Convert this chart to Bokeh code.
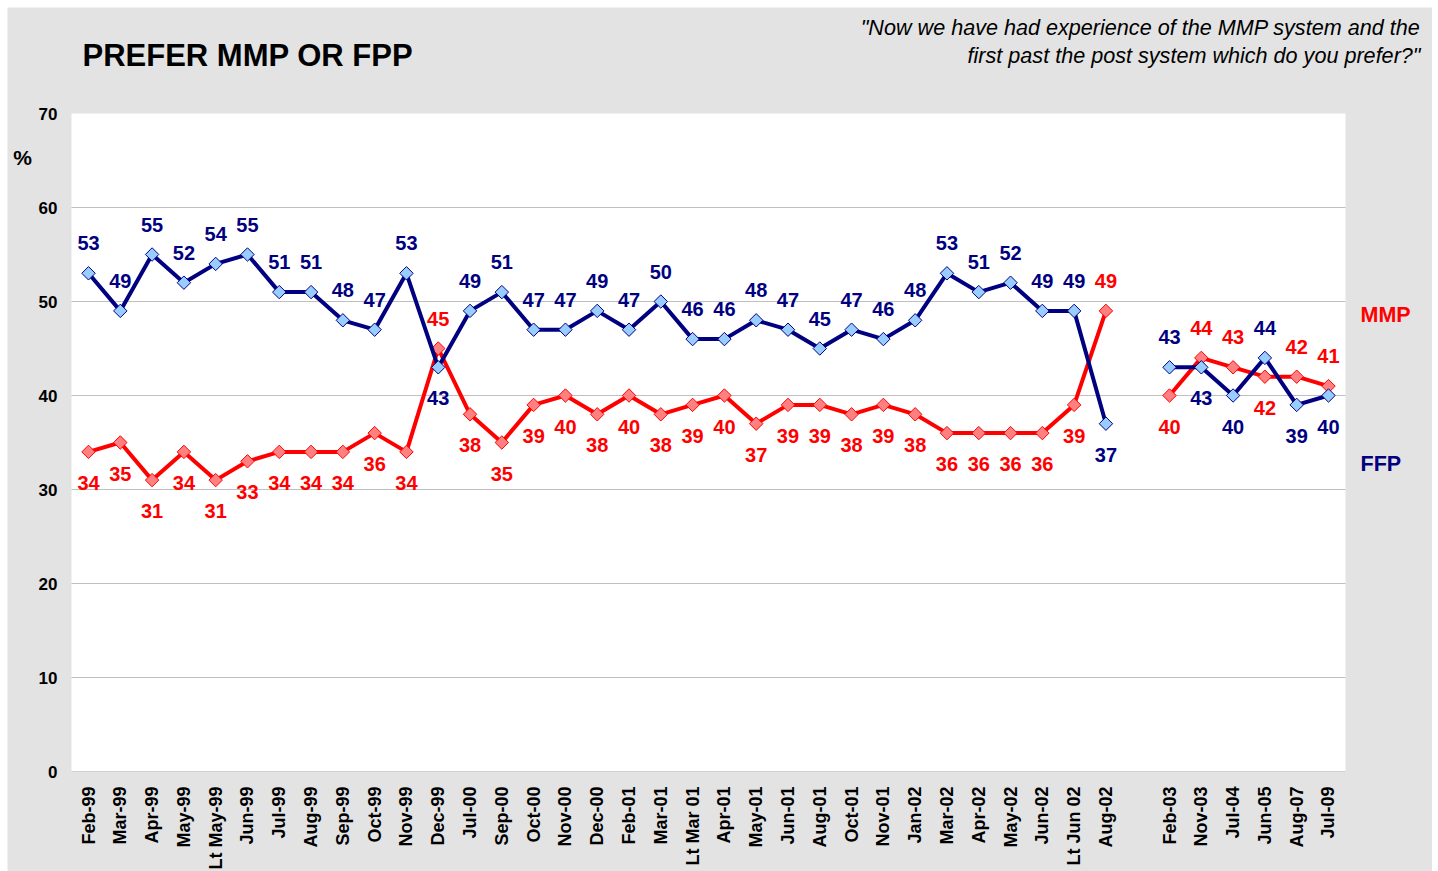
import numpy as np
from bokeh.plotting import figure
from bokeh.models import ColumnDataSource, FixedTicker, Range1d
from bokeh.embed import file_html
from bokeh.resources import INLINE
from bokeh.core.properties import value

# ---------------- data ----------------
categories = ["Feb-99", "Mar-99", "Apr-99", "May-99", "Lt May-99", "Jun-99", "Jul-99",
              "Aug-99", "Sep-99", "Oct-99", "Nov-99", "Dec-99", "Jul-00", "Sep-00",
              "Oct-00", "Nov-00", "Dec-00", "Feb-01", "Mar-01", "Lt Mar 01", "Apr-01",
              "May-01", "Jun-01", "Aug-01", "Oct-01", "Nov-01", "Jan-02", "Mar-02",
              "Apr-02", "May-02", "Jun-02", "Lt Jun 02", "Aug-02", "",
              "Feb-03", "Nov-03", "Jul-04", "Jun-05", "Aug-07", "Jul-09"]
ffp = [53, 49, 55, 52, 54, 55, 51, 51, 48, 47, 53, 43, 49, 51, 47, 47, 49, 47, 50, 46,
       46, 48, 47, 45, 47, 46, 48, 53, 51, 52, 49, 49, 37, None, 43, 43, 40, 44, 39, 40]
mmp = [34, 35, 31, 34, 31, 33, 34, 34, 34, 36, 34, 45, 38, 35, 39, 40, 38, 40, 38, 39,
       40, 37, 39, 39, 38, 39, 38, 36, 36, 36, 36, 39, 49, None, 40, 44, 43, 42, 42, 41]
y_ticks = [0, 10, 20, 30, 40, 50, 60, 70]
grid_ticks = [10, 20, 30, 40, 50, 60]
# label side: a = above the point, b = below
ffp_side = "aaaaaaaaaaab" + "a" * 20 + "b" + "-" + "abbabb"
mmp_side = "bbbbbbbbbbba" + "b" * 20 + "a" + "-" + "baabaa"

title_text = "PREFER MMP OR FPP"
question = ["\"Now we have had experience of the MMP system and the",
            "first past the post system which do you prefer?\""]

FONT = "Liberation Sans"
NAVY = "#000080"
RED = "#ff0000"
BG = "#e3e3e3"

# ---------------- layout geometry (canvas pixels) ----------------
W, H = 1425, 864
M_LEFT, M_TOP = 7, 7
PA_L, PA_R, PA_T, PA_B = 64, 1338, 106, 764      # white plot area in canvas px
PAD = 0.535                                        # category padding at each end
n = len(categories)
sx = (PA_R - PA_L) / (n - 1 + 2 * PAD)
sy = (PA_B - PA_T) / 70.0
x0 = -PAD - PA_L / sx
x1 = (n - 1 + PAD) + (W - PA_R) / sx
y0 = -(H - PA_B) / sy
y1 = 70 + PA_T / sy


def xd(X):  # page pixel -> data x
    return x0 + (X - M_LEFT) / sx


def yd(Y):  # page pixel -> data y
    return y1 - (Y - M_TOP) / sy


def num(v):
    return np.nan if v is None else float(v)


p = figure(width=W, height=H, x_range=Range1d(x0, x1), y_range=Range1d(y0, y1),
           output_backend="svg", toolbar_location=None,
           min_border=0, background_fill_color=BG, border_fill_color=BG,
           outline_line_color=None)
p.margin = (M_TOP, 0, 0, M_LEFT)

# white plot area
p.quad(left=[-PAD], right=[n - 1 + PAD], bottom=[0], top=[70],
       fill_color="white", line_color=None)
# grid lines
p.segment(x0=[-PAD] * len(grid_ticks), x1=[n - 1 + PAD] * len(grid_ticks),
          y0=grid_ticks, y1=grid_ticks, line_color="#c0c0c0", line_width=1)

# axes
p.xgrid.visible = False
p.ygrid.visible = False

p.xaxis.fixed_location = 0
p.xaxis.bounds = (-PAD, n - 1 + PAD)
p.xaxis.ticker = FixedTicker(ticks=[i for i, c in enumerate(categories) if c])
p.xaxis.major_label_overrides = {i: c for i, c in enumerate(categories) if c}
p.xaxis.major_label_orientation = np.pi / 2
p.xaxis.major_label_text_font = FONT
p.xaxis.major_label_text_font_style = "bold"
p.xaxis.major_label_text_font_size = "18px"
p.xaxis.major_label_text_color = "black"
p.xaxis.major_label_standoff = 15
p.xaxis.major_tick_line_color = None
p.xaxis.minor_tick_line_color = None
p.xaxis.major_tick_out = 0
p.xaxis.major_tick_in = 0
p.xaxis.axis_line_color = "#d0d0d0"

p.yaxis.fixed_location = -PAD
p.yaxis.bounds = (0, 70)
p.yaxis.ticker = FixedTicker(ticks=y_ticks)
p.yaxis.major_label_text_font = FONT
p.yaxis.major_label_text_font_style = "bold"
p.yaxis.major_label_text_font_size = "17px"
p.yaxis.major_label_text_color = "black"
p.yaxis.major_label_standoff = 14
p.yaxis.major_tick_line_color = None
p.yaxis.minor_tick_line_color = None
p.yaxis.major_tick_out = 0
p.yaxis.major_tick_in = 0
p.yaxis.axis_line_color = None

# series
x = list(range(n))
series = [
    ("MMP", mmp, mmp_side, RED, "#ff8080"),
    ("FFP", ffp, ffp_side, NAVY, "#99ccff"),
]
for name, vals, side, col, fill in series:
    ys = [num(v) for v in vals]
    src = ColumnDataSource(dict(x=x, y=ys))
    p.line("x", "y", source=src, line_color=col, line_width=4)
    p.scatter("x", "y", source=src, marker="square", angle=np.pi / 4, size=9.5,
              fill_color=fill, line_color=col, line_width=1)
for name, vals, side, col, fill in series:
    lx, ly, lt, dy = [], [], [], []
    for i, v in enumerate(vals):
        if v is None:
            continue
        lx.append(i)
        ly.append(float(v))
        lt.append(str(v))
        dy.append(-30 if side[i] == "a" else 31)
    lsrc = ColumnDataSource(dict(x=lx, y=ly, t=lt, dy=dy))
    p.text("x", "y", text="t", source=lsrc, y_offset="dy",
           text_align="center", text_baseline="middle",
           text_font=value(FONT), text_font_style="bold",
           text_font_size="20px", text_color=col)

# free texts (title, question, unit, series names)
def put(X, Y, txt, size, style, color, align):
    p.text(x=[xd(X)], y=[yd(Y)], text=[txt], text_font=value(FONT),
           text_font_style=style, text_font_size=size, text_color=color,
           text_align=align, text_baseline="middle")


put(82, 55, title_text, "31px", "bold", "black", "left")
put(1420, 27, question[0], "21.6px", "italic", "black", "right")
put(1420, 55, question[1], "21.6px", "italic", "black", "right")
put(22, 157, "%", "21px", "bold", "black", "center")
put(1360, 314, "MMP", "21.5px", "bold", RED, "left")
put(1360, 463, "FFP", "21.5px", "bold", NAVY, "left")

open("out.html", "w").write(file_html(p, INLINE))
